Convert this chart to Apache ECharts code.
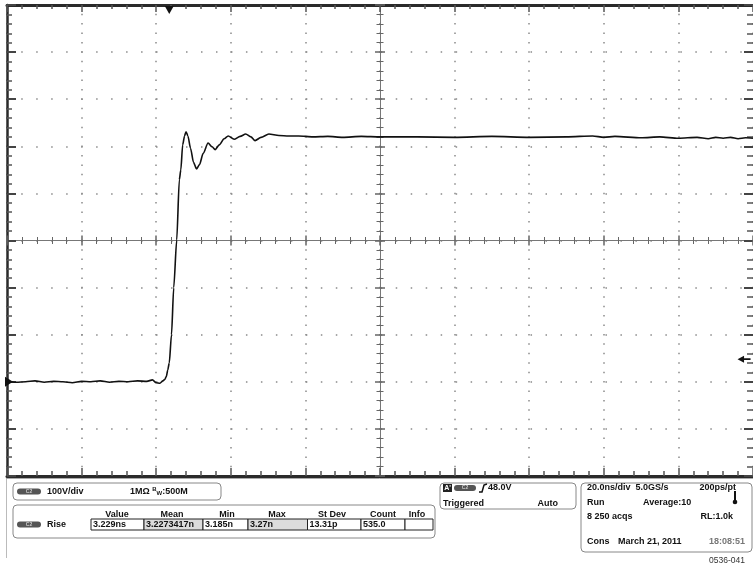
<!DOCTYPE html>
<html>
<head>
<meta charset="utf-8">
<script src="https://cdn.jsdelivr.net/npm/echarts@6.0.0/dist/echarts.min.js"></script>
<style>
  html, body { margin: 0; padding: 0; background: #fff; }
  #scope { width: 753px; height: 573px; }
</style>
</head>
<body>
<div id="scope"></div>
<script>
// waveform: time in ns from left edge of screen, amplitude in volts (ground = 0)
var timeNs = [0, 2.5, 5, 7.5, 10, 12.5, 15, 17.5, 20, 22.5, 25, 27.5, 30, 32.5, 35, 37.5,
  39, 40, 41, 41.8, 42.3, 42.7, 43.1, 43.5,
  44.1, 44.7, 45.5, 46.2, 46.6, 47.1, 47.6, 48.0,
  48.5, 49.2, 50.0, 50.8, 51.6, 52.6, 53.9, 55.0,
  55.8, 56.9, 58.2, 59.3, 60.9, 62.5, 64.0, 65.4,
  66.5, 68.1, 70.2, 72.9, 75.5, 78.2, 82, 86,
  90, 95, 100, 110, 120, 130, 140, 150,
  157, 160, 163, 170, 175, 180, 185, 188,
  190, 192, 194, 196, 198, 200];
var volts = [1, -1, 0, 2, -1, 1, 0, -2, 1, 0, 2, -1, 1, 0, 2, 1,
  4, -2, -3, 2, 5, 11, 25, 40,
  100, 200, 301, 429, 450, 503, 522, 531,
  522, 496, 466, 452, 461, 485, 507, 499,
  493, 503, 516, 522, 515, 521, 526, 520,
  512, 519, 526, 523, 522, 522, 520, 521,
  519, 521, 520, 520, 519, 521, 519, 520,
  522, 519, 521, 518, 520, 517, 519, 516,
  519, 517, 519, 516, 518, 517];

var nsPerDiv = 20;
var voltsPerDiv = 100;
var timeRange = [0, 200];
var voltRange = [-200, 800];
var triggerTime = 43.5;
var triggerLevel = 48;

// readout panel
var measHeaders = ['Value', 'Mean', 'Min', 'Max', 'St Dev', 'Count', 'Info'];
var measValues = ['3.229ns', '3.2273417n', '3.185n', '3.27n', '13.31p', '535.0', ''];

var myChart = echarts.init(document.getElementById('scope'));

var FONT = 'bold 9px "Liberation Sans", Arial, sans-serif';
var plotRect = { left: 7, top: 5, width: 749, height: 471 };

function txt(s, x, y, align, color, font) {
    return {
        type: 'text', silent: true,
        style: {
            text: s, x: x, y: y, fill: color || '#111', font: font || FONT,
            align: align || 'left', textAlign: align || 'left',
            verticalAlign: 'middle', textVerticalAlign: 'middle'
        }
    };
}
function box(x, y, w, h, fill, stroke, r) {
    return {
        type: 'rect', silent: true,
        shape: { x: x, y: y, width: w, height: h, r: r || 0 },
        style: { fill: fill || 'none', stroke: stroke || '#888', lineWidth: 1 }
    };
}
function pill(x, y, w) {
    return [
        { type: 'rect', silent: true, shape: { x: x, y: y, width: w, height: 6, r: 3 }, style: { fill: '#555' } },
        txt('C2', x + w / 2, y + 3, 'center', '#ccc', 'bold 5px "Liberation Sans", Arial')
    ];
}

var g = [];
// shadow lines under the screen
g.push({ type: 'line', silent: true, shape: { x1: 6.5, y1: 478, x2: 6.5, y2: 558 }, style: { stroke: '#bbb', lineWidth: 1 } });
g.push({ type: 'line', silent: true, shape: { x1: 6, y1: 478.5, x2: 753, y2: 478.5 }, style: { stroke: '#aaa', lineWidth: 1 } });

// channel box
g.push(box(13, 483, 208, 17, '#fff', '#888', 4));
g = g.concat(pill(17, 488.5, 24));
g.push(txt('100V/div', 47, 491.5));
g.push({
    type: 'text', silent: true,
    style: {
        text: '{a|1MΩ }{b|B}{c|W}{a|:500M}', x: 130, y: 491.5, verticalAlign: 'middle', textVerticalAlign: 'middle',
        rich: {
            a: { font: FONT, fill: '#111' },
            b: { font: 'bold 6px "Liberation Sans", Arial', fill: '#111', padding: [0, 0, 5, 0] },
            c: { font: 'bold 6px "Liberation Sans", Arial', fill: '#111', padding: [4, 0, 0, 0] }
        }
    }
});

// measurement box
g.push(box(13, 505, 422, 33, '#fff', '#888', 4));
var cellX = [91, 144, 203, 248, 307.5, 361, 405, 433];
var headX = [117, 172, 227, 277, 332, 383, 417];
measHeaders.forEach(function (h, i) { g.push(txt(h, headX[i], 515, 'center')); });
g = g.concat(pill(17, 521.5, 24));
g.push(txt('Rise', 47, 524.5));
measValues.forEach(function (v, i) {
    var shaded = (i === 1 || i === 3);
    g.push(box(cellX[i], 519, cellX[i + 1] - cellX[i], 11, shaded ? '#dcdcdc' : '#fff', '#222', 0));
    if (v) g.push(txt(v, cellX[i] + 2, 524.8));
});

// trigger box
g.push(box(440, 483, 136, 26, '#fff', '#888', 4));
g.push({ type: 'rect', silent: true, shape: { x: 443, y: 484, width: 9, height: 8 }, style: { fill: '#222' } });
g.push(txt("A'", 447.5, 488.2, 'center', '#fff', 'bold 7px "Liberation Sans", Arial'));
g = g.concat(pill(454, 485, 22));
g.push({ type: 'polyline', silent: true, shape: { points: [[479, 492], [482, 492], [484, 485], [487, 484]] }, style: { stroke: '#111', lineWidth: 1.5, fill: 'none' } });
g.push(txt(triggerLevel.toFixed(1) + 'V', 488, 487.5));
g.push(txt('Triggered', 443, 503.5));
g.push(txt('Auto', 558, 503.5, 'right'));

// horizontal / acquisition box
g.push(box(581, 483, 171, 69, '#fff', '#888', 4));
g.push(txt(nsPerDiv.toFixed(1) + 'ns/div  5.0GS/s', 587, 487.5));
g.push(txt('200ps/pt', 736, 487.5, 'right'));
g.push({ type: 'rect', silent: true, shape: { x: 734, y: 491, width: 2, height: 10 }, style: { fill: '#111' } });
g.push({ type: 'circle', silent: true, shape: { cx: 735, cy: 502, r: 2.3 }, style: { fill: '#111' } });
g.push(txt('Run', 587, 503));
g.push(txt('Average:10', 643, 503));
g.push(txt('8 250 acqs', 587, 516.7));
g.push(txt('RL:1.0k', 733, 516.7, 'right'));
g.push(txt('Cons', 587, 541.7));
g.push(txt('March 21, 2011', 618, 541.7));
g.push(txt('18:08:51', 745, 541.7, 'right', '#777'));
g.push(txt('0536-041', 745, 560.7, 'right', '#333', '8.5px "Liberation Sans", Arial, sans-serif'));

var tickStyle = { color: '#555', width: 1.5 };
var borderLine = { show: true, onZero: false, lineStyle: { color: '#2a2a2a', width: 3 } };
var noLabel = { show: false };

function centerAxis(inside, len, minorLen) {
    return {
        type: 'value', min: -5, max: 5, interval: 1,
        axisLine: { show: true, onZero: true, lineStyle: { color: '#777', width: 1 } },
        axisTick: { show: true, inside: inside, length: len, lineStyle: { color: '#666', width: 1.5 } },
        minorTick: { show: true, splitNumber: 5, length: minorLen, lineStyle: { color: '#666', width: 1 } },
        axisLabel: noLabel, splitLine: { show: false }
    };
}

var xAxes = [
    {
        gridIndex: 0, type: 'value', min: timeRange[0], max: timeRange[1], interval: nsPerDiv, position: 'bottom',
        axisLine: borderLine,
        axisTick: { show: true, inside: true, length: 8, lineStyle: tickStyle },
        minorTick: { show: true, splitNumber: 5, length: 5, lineStyle: tickStyle },
        axisLabel: noLabel,
        splitLine: { show: true, lineStyle: { color: '#8a8a8a', width: 1.5, type: [1.5, 7.92], dashOffset: 0.75 } }
    },
    {
        gridIndex: 0, type: 'value', min: timeRange[0], max: timeRange[1], interval: nsPerDiv, position: 'top',
        axisLine: borderLine,
        axisTick: { show: true, inside: true, length: 7, lineStyle: tickStyle },
        minorTick: { show: true, splitNumber: 5, length: 4, lineStyle: tickStyle },
        axisLabel: noLabel, splitLine: { show: false }
    }
];
var yAxes = [
    {
        gridIndex: 0, type: 'value', min: voltRange[0], max: voltRange[1], interval: voltsPerDiv, position: 'left',
        axisLine: { show: true, onZero: false, lineStyle: { color: '#2a2a2a', width: 2.5 } },
        axisTick: { show: true, inside: true, length: 9, lineStyle: { color: '#444', width: 2 } },
        minorTick: { show: true, splitNumber: 5, length: 5, lineStyle: tickStyle },
        axisLabel: noLabel,
        splitLine: { show: true, lineStyle: { color: '#8a8a8a', width: 1.5, type: [1.5, 13.48], dashOffset: 0.75 } }
    },
    {
        gridIndex: 0, type: 'value', min: voltRange[0], max: voltRange[1], interval: voltsPerDiv, position: 'right',
        axisLine: { show: false, onZero: false },
        axisTick: { show: true, inside: true, length: 9, lineStyle: { color: '#444', width: 2 } },
        minorTick: { show: true, splitNumber: 5, length: 6, lineStyle: tickStyle },
        axisLabel: noLabel, splitLine: { show: false }
    }
];
[1, 2].forEach(function (gi) {
    var inside = gi === 1;
    var x = centerAxis(inside, 5, 3.5); x.gridIndex = gi;
    var y = centerAxis(inside, 5, 3.5); y.gridIndex = gi;
    xAxes.push(x); yAxes.push(y);
});

var option = {
    animation: false,
    backgroundColor: '#fff',
    grid: [plotRect, plotRect, plotRect].map(function (r) {
        return { left: r.left, top: r.top, width: r.width, height: r.height, containLabel: false };
    }),
    xAxis: xAxes,
    yAxis: yAxes,
    graphic: g,
    series: [
        {
            type: 'line',
            xAxisIndex: 0, yAxisIndex: 0,
            data: timeNs.map(function (t, i) { return [t, volts[i]]; }),
            showSymbol: false,
            smooth: 0.25,
            smoothMonotone: 'x',
            lineStyle: { color: '#111', width: 1.6 },
            z: 5,
            markPoint: {
                silent: true,
                label: { show: false },
                data: [
                    { coord: [triggerTime, voltRange[1]], symbol: 'path://M0,0 L10,0 L5,9 Z', symbolSize: [9, 8], symbolOffset: [0, 5], itemStyle: { color: '#111' } },
                    { coord: [timeRange[0], 0], symbol: 'path://M0,0 L10,5 L0,10 Z', symbolSize: [8, 10], symbolOffset: [2, 0], itemStyle: { color: '#111' } },
                    { coord: [197.6, triggerLevel], symbol: 'path://M0,4 L7,0 L7,3 L14,3 L14,5 L7,5 L7,8 Z', symbolSize: [13, 7], itemStyle: { color: '#111' } }
                ]
            }
        }
    ]
};
myChart.setOption(option);
</script>
</body>
</html>
